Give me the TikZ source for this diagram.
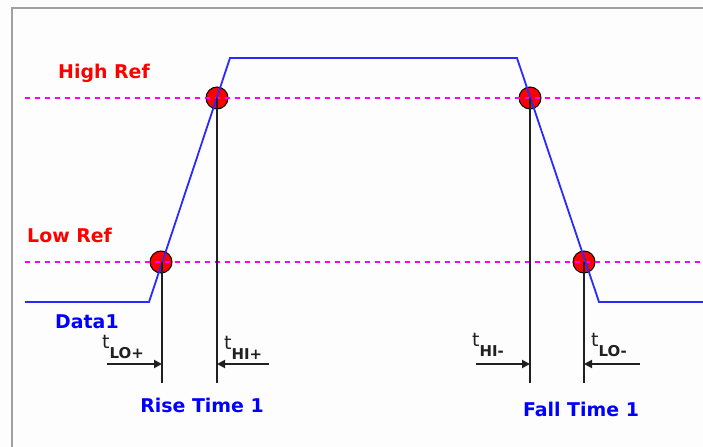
\documentclass[tikz,border=0pt]{standalone}
\usepackage{fontspec}
\setmainfont{DejaVu Sans}
\usetikzlibrary{arrows.meta}
\definecolor{Canvas}{HTML}{FDFDFD}
\definecolor{Frame}{HTML}{A0A0A0}
\definecolor{Signal}{HTML}{2A2AFF}
\definecolor{RefLine}{HTML}{FF00FF}
\definecolor{RefText}{HTML}{FF0000}
\definecolor{Marker}{HTML}{FF0000}
\definecolor{Ink}{HTML}{202020}
\definecolor{Caption}{HTML}{0000FF}

\begin{document}
\begin{tikzpicture}[x=1bp,y=-1bp,signal/.style={draw=Signal, line width=1.8bp},refline/.style={draw=RefLine, line width=1.6bp, dash pattern=on 5bp off 5bp},marker/.style={circle, fill=Marker, draw=black, line width=1bp, minimum size=22bp, inner sep=0pt},cursor/.style={draw=Ink, line width=2bp},timearrow/.style={-{Triangle[length=8bp,width=8bp]}, draw=Ink, line width=1.8bp},reftext/.style={text=RefText, font=\fontsize{19}{21}\selectfont\bfseries, anchor=base west, inner sep=0pt},captext/.style={text=Caption, font=\fontsize{19}{21}\selectfont\bfseries, inner sep=0pt},tlabel/.style={text=Ink, font=\fontsize{19}{21}\selectfont, anchor=base west, inner sep=0pt}]
\useasboundingbox (0,0) rectangle (703,447);
\fill[Canvas] (0,0) rectangle (703,447);
\draw[Frame, line width=2bp] (12,447) -- (12,8) -- (703,8);
% crossing markers
\node[marker] (riseLo) at (161,262) {};
\node[marker] (riseHi) at (217,98) {};
\node[marker] (fallHi) at (530,98) {};
\node[marker] (fallLo) at (584,262) {};
% reference levels
\draw[refline] (25,98) -- (703,98);
\draw[refline] (25,262) -- (703,262);
\node[reftext] (highref) at (58,79) {High Ref};
\node[reftext] (lowref) at (27,243) {Low Ref};
% waveform
\draw[signal] (25,302) -- (149,302) -- (230,58) -- (517,58) -- (599,302) -- (703,302);
\node[captext, anchor=base west] (data) at (55,329) {Data1};
% cursors
\coordinate (riseLoFoot) at (162,383);
\coordinate (riseHiFoot) at (217,383);
\coordinate (fallHiFoot) at (530,383);
\coordinate (fallLoFoot) at (584,383);
\draw[cursor] (riseLoFoot |- riseLo) -- (riseLoFoot);
\draw[cursor] (riseHi.center) -- (riseHiFoot);
\draw[cursor] (fallHi.center) -- (fallHiFoot);
\draw[cursor] (fallLo.center) -- (fallLoFoot);
% time arrows
\coordinate (tLoPlusTail) at (107,364);
\coordinate (tHiPlusTail) at (269,364);
\coordinate (tHiMinusTail) at (476,364);
\coordinate (tLoMinusTail) at (640,364);
\draw[timearrow] (tLoPlusTail) -- (tLoPlusTail -| riseLoFoot);
\draw[timearrow] (tHiPlusTail) -- (tHiPlusTail -| riseHiFoot);
\draw[timearrow] (tHiMinusTail) -- (tHiMinusTail -| fallHiFoot);
\draw[timearrow] (tLoMinusTail) -- (tLoMinusTail -| fallLoFoot);
\node[tlabel] (tLoPlus) at (102,349) {t\raisebox{-9bp}{\fontsize{15}{17}\selectfont\bfseries LO+}};
\node[tlabel] (tHiPlus) at (224,350) {t\raisebox{-9bp}{\fontsize{15}{17}\selectfont\bfseries HI+}};
\node[tlabel] (tHiMinus) at (472,347) {t\raisebox{-9bp}{\fontsize{15}{17}\selectfont\bfseries HI-}};
\node[tlabel] (tLoMinus) at (591,347) {t\raisebox{-9bp}{\fontsize{15}{17}\selectfont\bfseries LO-}};
% captions
\node[captext, anchor=base] (rise) at (202,412) {Rise Time 1};
\node[captext, anchor=base] (fall) at (581,416) {Fall Time 1};
\end{tikzpicture}
\end{document}
